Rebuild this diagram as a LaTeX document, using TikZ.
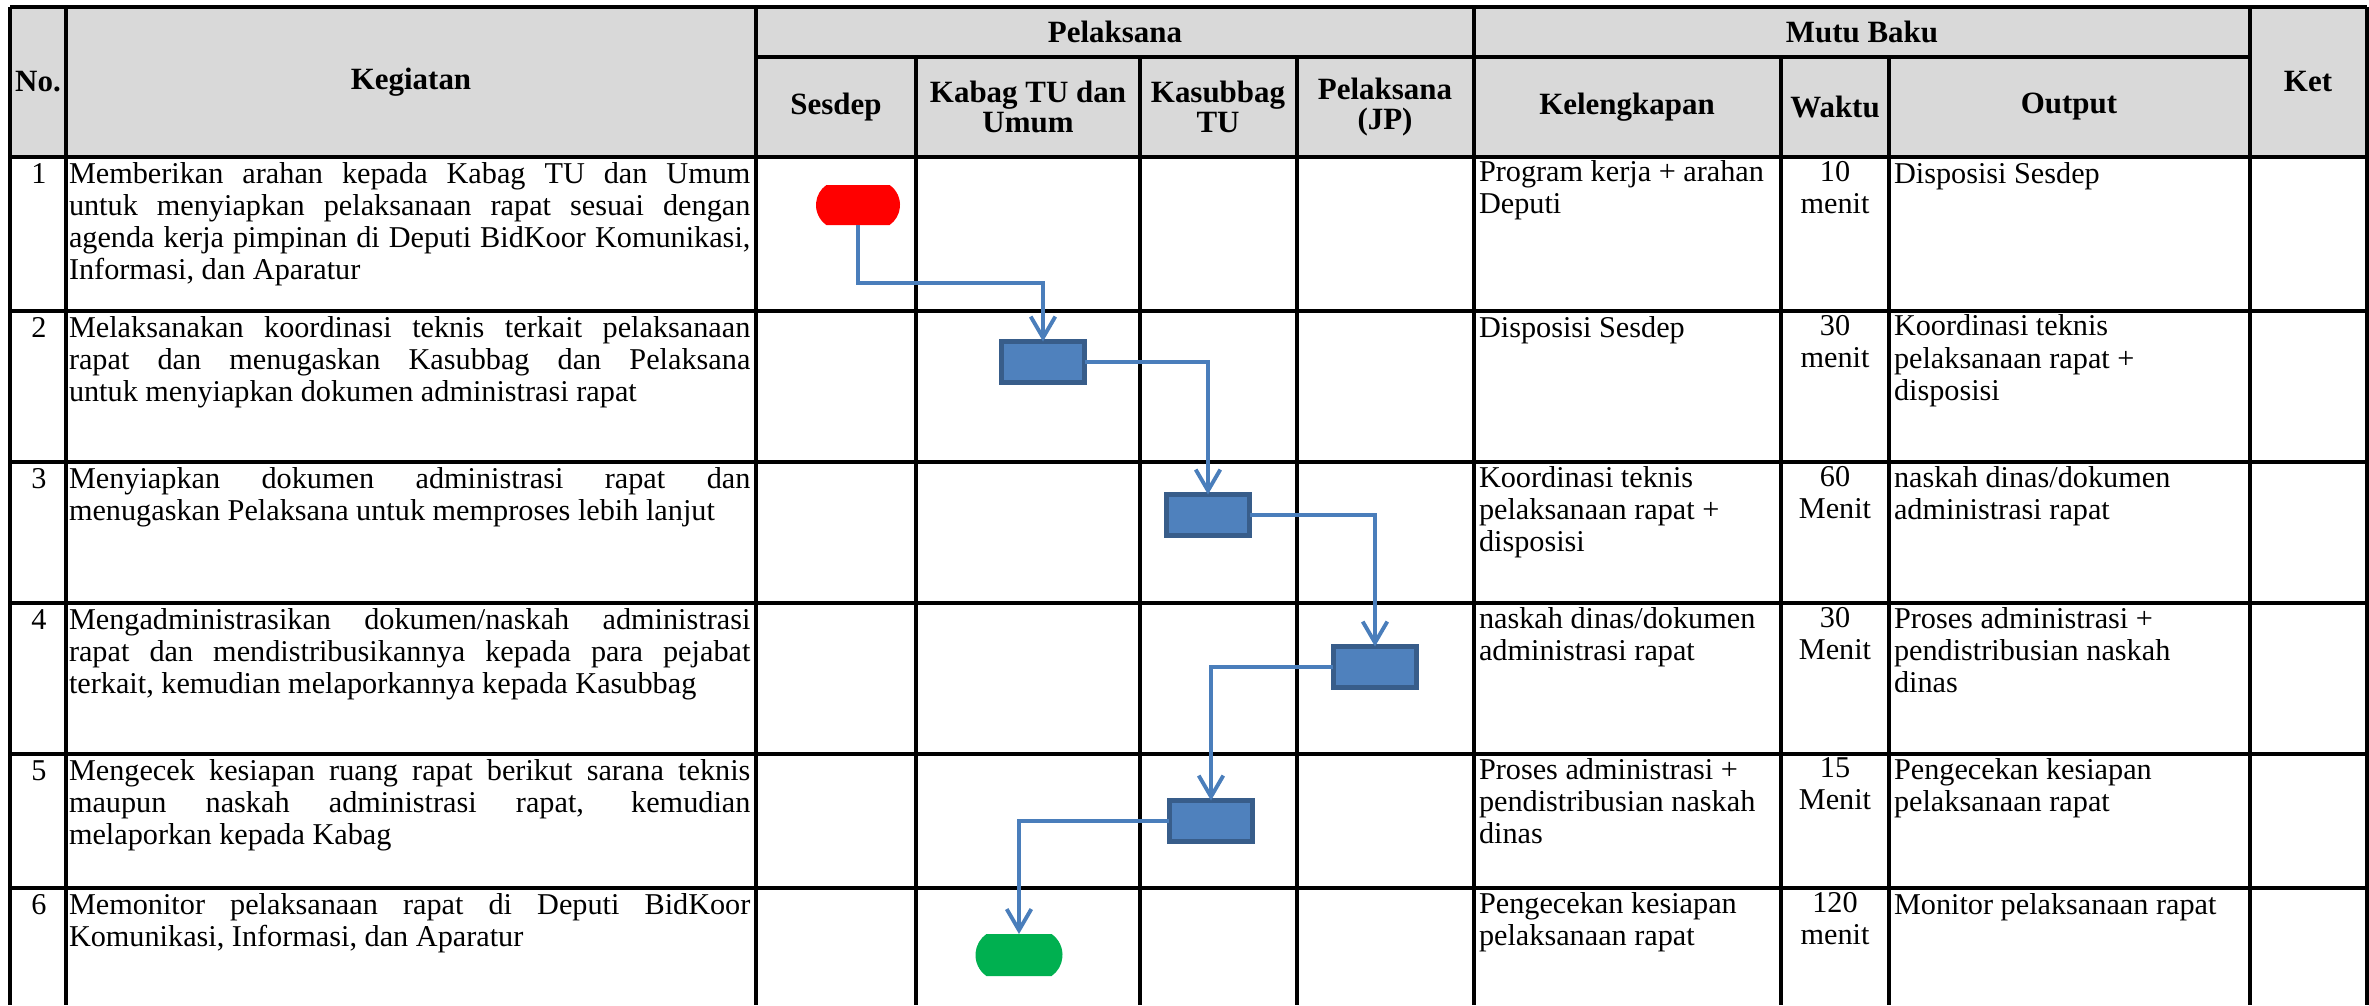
\documentclass[tikz,border=0pt]{standalone}
\usepackage{fontspec}
\setmainfont{Liberation Serif}
\usetikzlibrary{arrows.meta,shapes.misc}

\definecolor{hdrgray}{HTML}{D9D9D9}
\definecolor{flowblue}{HTML}{4A7EBB}
\definecolor{boxfill}{HTML}{4F81BD}
\definecolor{boxline}{HTML}{385D8A}
\definecolor{startred}{HTML}{FF0000}
\definecolor{endgreen}{HTML}{00B050}
\newcommand{\cellfont}{\fontsize{8.6pt}{9.1pt}\selectfont}
\newcommand{\headfont}{\fontsize{8.8pt}{8.6pt}\selectfont\bfseries}
\newcommand{\justcell}{\tolerance=10000 \hbadness=10000 \strut}

\begin{document}
\begin{tikzpicture}[x=0.01cm, y=-0.01cm]

\tikzstyle{every node} = [inner sep=0pt, outer sep=0pt, font=\cellfont]
\tikzstyle{head} = [align=center, font=\headfont]
\tikzstyle{grid} = [line width=0.9pt]
\tikzstyle{nomor} = [anchor=north, execute at begin node=\strut]
\tikzstyle{kegiatan} = [anchor=north west, text width=6.81cm, align=justify, execute at begin node=\justcell]
\tikzstyle{kiri} = [anchor=north west, align=left, execute at begin node=\strut]
\tikzstyle{tengah} = [anchor=north, align=center, execute at begin node=\strut]
\tikzstyle{proses} = [rectangle, fill=boxfill, draw=boxline, line width=1.6pt, minimum width=0.83cm, minimum height=0.41cm]
\tikzstyle{terminal} = [rounded rectangle, rounded rectangle arc length=110, minimum width=0.84cm, minimum height=0.40cm]
\tikzstyle{flow} = [draw=flowblue, line width=1.1pt, -{Straight Barb[length=6pt, width=7pt, line width=1.1pt]}]

\useasboundingbox (0,0) rectangle (2369,1005);

\fill[hdrgray] (10,7) rectangle (2367,157);
\draw[grid] (10,7) -- (2367,7);
\draw[grid] (756,57) -- (2250,57);
\foreach \y in {157,311,462,603,754,888}
  \draw[grid] (10,\y) -- (2367,\y);
\foreach \x in {10,66,756,1474,2250,2367}
  \draw[grid] (\x,7) -- (\x,1005);
\foreach \x in {916,1140,1297,1781,1889}
  \draw[grid] (\x,57) -- (\x,1005);

\node[head] (hno) at (38,82) {No.};
\node[head] (hkeg) at (411,82) {Kegiatan};
\node[head] (hpel) at (1115,32) {Pelaksana};
\node[head] (hses) at (836,107) {Sesdep};
\node[head] (hkab) at (1028,107) {Kabag TU dan\\Umum};
\node[head] (hkas) at (1218,107) {Kasubbag\\TU};
\node[head] (hjp) at (1385,107) {Pelaksana\\(JP)};
\node[head] (hmutu) at (1862,32) {Mutu Baku};
\node[head] (hkel) at (1627,107) {Kelengkapan};
\node[head] (hwak) at (1835,107) {Waktu};
\node[head] (hout) at (2069,107) {Output};
\node[head] (hket) at (2308,82) {Ket};

\node[nomor] (n1) at (39,161) {1};
\node[kegiatan] (k1) at (69,161) {Memberikan arahan kepada Kabag TU dan Umum\linebreak untuk menyiapkan pelaksanaan rapat sesuai dengan\linebreak agenda kerja pimpinan di Deputi BidKoor Komunikasi,\linebreak Informasi, dan Aparatur};
\node[kiri] (l1) at (1479,161) {Program kerja + arahan\\Deputi};
\node[tengah] (w1) at (1835,161) {10\\menit};
\node[kiri] (o1) at (1894,161) {Disposisi Sesdep};

\node[nomor] (n2) at (39,315) {2};
\node[kegiatan] (k2) at (69,315) {Melaksanakan koordinasi teknis terkait pelaksanaan\linebreak rapat dan menugaskan Kasubbag dan Pelaksana\linebreak untuk menyiapkan dokumen administrasi rapat};
\node[kiri] (l2) at (1479,315) {Disposisi Sesdep};
\node[tengah] (w2) at (1835,315) {30\\menit};
\node[kiri] (o2) at (1894,315) {Koordinasi teknis\\pelaksanaan rapat +\\disposisi};

\node[nomor] (n3) at (39,466) {3};
\node[kegiatan] (k3) at (69,466) {Menyiapkan dokumen administrasi rapat dan\linebreak menugaskan Pelaksana untuk memproses lebih lanjut};
\node[kiri] (l3) at (1479,466) {Koordinasi teknis\\pelaksanaan rapat +\\disposisi};
\node[tengah] (w3) at (1835,466) {60\\Menit};
\node[kiri] (o3) at (1894,466) {naskah dinas/dokumen\\administrasi rapat};

\node[nomor] (n4) at (39,607) {4};
\node[kegiatan] (k4) at (69,607) {Mengadministrasikan dokumen/naskah administrasi\linebreak rapat dan mendistribusikannya kepada para pejabat\linebreak terkait, kemudian melaporkannya kepada Kasubbag};
\node[kiri] (l4) at (1479,607) {naskah dinas/dokumen\\administrasi rapat};
\node[tengah] (w4) at (1835,607) {30\\Menit};
\node[kiri] (o4) at (1894,607) {Proses administrasi +\\pendistribusian naskah\\dinas};

\node[nomor] (n5) at (39,758) {5};
\node[kegiatan] (k5) at (69,758) {Mengecek kesiapan ruang rapat berikut sarana teknis\linebreak maupun naskah administrasi rapat, kemudian\linebreak melaporkan kepada Kabag};
\node[kiri] (l5) at (1479,758) {Proses administrasi +\\pendistribusian naskah\\dinas};
\node[tengah] (w5) at (1835,758) {15\\Menit};
\node[kiri] (o5) at (1894,758) {Pengecekan kesiapan\\pelaksanaan rapat};

\node[nomor] (n6) at (39,892) {6};
\node[kegiatan] (k6) at (69,892) {Memonitor pelaksanaan rapat di Deputi BidKoor\linebreak Komunikasi, Informasi, dan Aparatur};
\node[kiri] (l6) at (1479,892) {Pengecekan kesiapan\\pelaksanaan rapat};
\node[tengah] (w6) at (1835,892) {120\\menit};
\node[kiri] (o6) at (1894,892) {Monitor pelaksanaan rapat};

\node[terminal, fill=startred] (s1) at (858,205) {};
\node[proses] (b2) at (1043,362) {};
\node[proses] (b3) at (1208,515) {};
\node[proses] (b4) at (1375,667) {};
\node[proses] (b5) at (1211,821) {};
\node[terminal, fill=endgreen, minimum width=0.87cm, minimum height=0.42cm] (e6) at (1019,955) {};

\draw[flow] (s1.south) -- ++(0,58) -| (b2.north);
\draw[flow] (b2.east) -| (b3.north);
\draw[flow] (b3.east) -| (b4.north);
\draw[flow] (b4.west) -| (b5.north);
\draw[flow] (b5.west) -| (e6.north);

\end{tikzpicture}
\end{document}
